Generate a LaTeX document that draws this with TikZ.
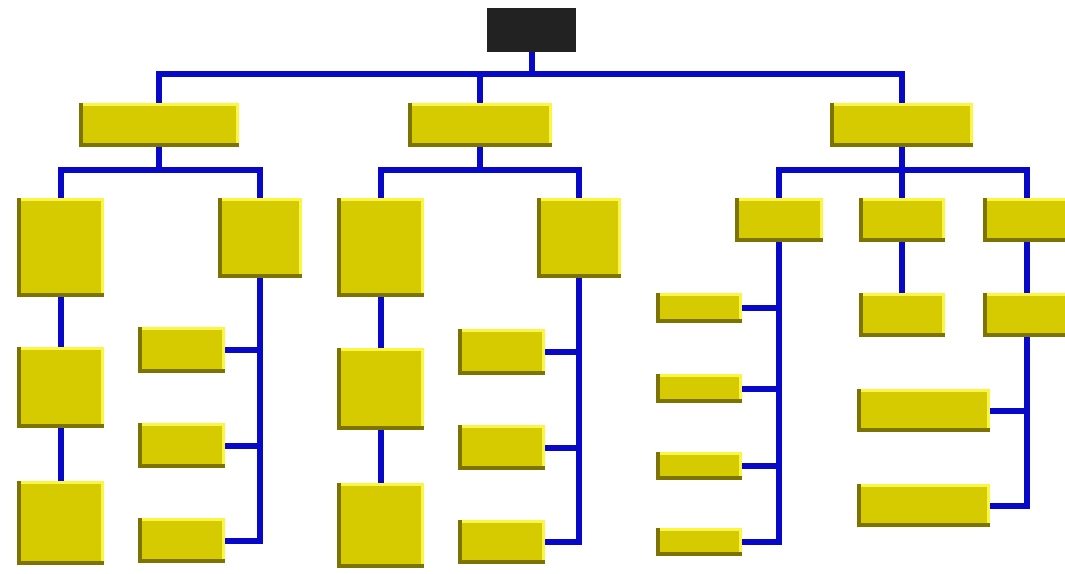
\documentclass[tikz,border=0pt]{standalone}
\definecolor{boxfill}{RGB}{214,203,0}
\definecolor{bevdark}{RGB}{125,115,0}
\definecolor{bevlight}{RGB}{250,246,70}
\definecolor{rootfill}{RGB}{34,34,34}
\definecolor{linkblue}{RGB}{8,8,200}
\tikzset{
  ybox/.style={rectangle, inner sep=0pt, fill=boxfill,
    path picture={
      \fill[bevlight] ([yshift=-3pt]path picture bounding box.north west) rectangle (path picture bounding box.north east);
      \fill[bevlight] ([xshift=-3pt]path picture bounding box.south east) rectangle (path picture bounding box.north east);
      \fill[bevdark] (path picture bounding box.south west) rectangle ([xshift=4pt]path picture bounding box.north west);
      \fill[bevdark] (path picture bounding box.south west) rectangle ([yshift=4pt]path picture bounding box.south east);
    }},
  rootbox/.style={rectangle, inner sep=0pt, fill=rootfill},
  link/.style={draw=linkblue, line width=6pt, line join=miter}
}
\newcommand\yb[6][ybox]{\node[#1, minimum width={#5pt-#3pt}, minimum height={#6pt-#4pt}] (#2) at ({(#3+#5)/2},{(#4+#6)/2}) {};}
\begin{document}
\begin{tikzpicture}[x=1pt,y=-1pt]
\useasboundingbox (0,0) rectangle (1065,573);
\clip (0,0) rectangle (1065,573);
% root
\yb[rootbox]{root}{487}{8}{576}{52}
% level 1
\yb{A}{79}{103}{239}{147}
\yb{B}{408}{103}{552}{147}
\yb{C}{830}{103}{973}{147}
% group A
\yb{Al1}{17}{198}{104}{297}
\yb{Al2}{17}{347}{104}{428}
\yb{Al3}{17}{481}{104}{565}
\yb{Ar}{218}{198}{302}{278}
\yb{Ar1}{138}{327}{225}{373}
\yb{Ar2}{138}{423}{225}{468}
\yb{Ar3}{138}{518}{225}{563}
% group B
\yb{Bl1}{337}{198}{424}{297}
\yb{Bl2}{337}{348}{424}{430}
\yb{Bl3}{337}{483}{424}{568}
\yb{Br}{537}{198}{621}{278}
\yb{Br1}{458}{329}{545}{375}
\yb{Br2}{458}{425}{545}{470}
\yb{Br3}{458}{520}{545}{564}
% group C
\yb{C1}{735}{198}{823}{242}
\yb{C2}{859}{198}{945}{242}
\yb{C3}{983}{198}{1071}{242}
\yb{Ca}{656}{293}{742}{323}
\yb{Cb}{656}{374}{742}{403}
\yb{Cc}{656}{452}{742}{480}
\yb{Cd}{656}{528}{742}{556}
\yb{Ce}{859}{293}{945}{337}
\yb{Cf}{983}{293}{1071}{337}
\yb{Cg}{857}{389}{990}{432}
\yb{Ch}{857}{484}{990}{527}
% top bus
\coordinate (bus0) at (531.5,74);
\draw[link] (root.south) -- (bus0);
\draw[link] (A.north) |- (bus0) -| (C.north);
\draw[link] (B.north) -- (B.north |- bus0);
% group A connectors
\coordinate (busA) at (159,170);
\draw[link] (A.south) -- (busA);
\draw[link] (Al1.north) |- (busA) -| (Ar.north);
\draw[link] (Al1.south) -- (Al2.north);
\draw[link] (Al2.south) -- (Al3.north);
\draw[link] (Ar.south) |- (Ar3.east);
\draw[link] (Ar1.east) -- (Ar1.east -| Ar.south);
\draw[link] (Ar2.east) -- (Ar2.east -| Ar.south);
% group B connectors
\coordinate (busB) at (480,170);
\draw[link] (B.south) -- (busB);
\draw[link] (Bl1.north) |- (busB) -| (Br.north);
\draw[link] (Bl1.south) -- (Bl2.north);
\draw[link] (Bl2.south) -- (Bl3.north);
\draw[link] (Br.south) |- (Br3.east);
\draw[link] (Br1.east) -- (Br1.east -| Br.south);
\draw[link] (Br2.east) -- (Br2.east -| Br.south);
% group C connectors
\coordinate (busC) at (901.5,170);
\draw[link] (C.south) -- (busC);
\draw[link] (C1.north) |- (busC) -| (C3.north);
\draw[link] (C2.north) -- (C2.north |- busC);
\draw[link] (C1.south) |- (Cd.east);
\draw[link] (Ca.east) -- (Ca.east -| C1.south);
\draw[link] (Cb.east) -- (Cb.east -| C1.south);
\draw[link] (Cc.east) -- (Cc.east -| C1.south);
\draw[link] (C2.south) -- (Ce.north);
\draw[link] (C3.south) -- (Cf.north);
\draw[link] (Cf.south) |- (Ch.east);
\draw[link] (Cg.east) -- (Cg.east -| Cf.south);
\end{tikzpicture}
\end{document}
